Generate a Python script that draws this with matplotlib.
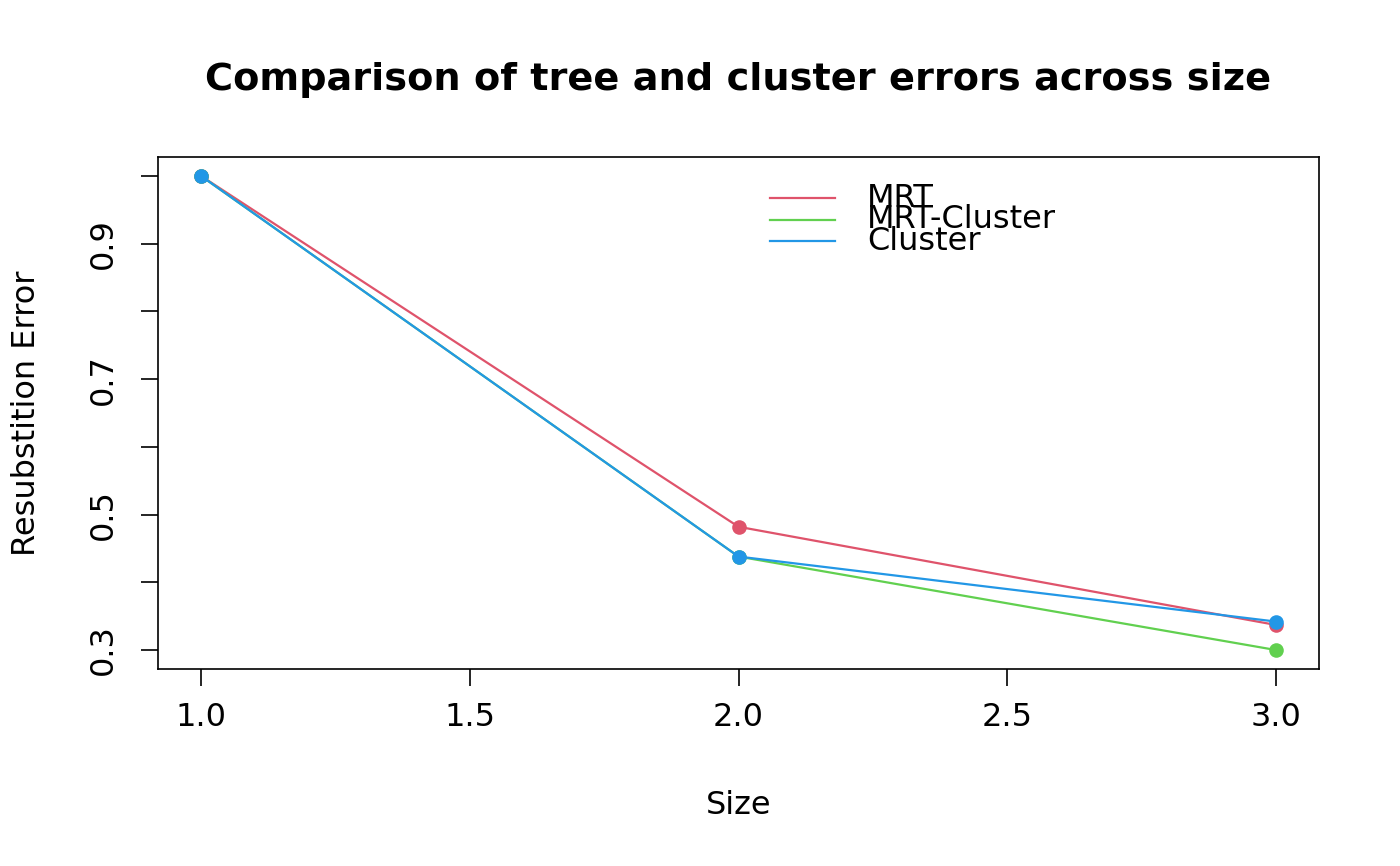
import matplotlib
matplotlib.use('Agg')
import matplotlib.pyplot as plt
from matplotlib.lines import Line2D

plt.rcParams['font.family'] = 'DejaVu Sans'

# data
size = [1, 2, 3]
err_mrt = [1.0, 0.482, 0.337]
err_mrt_cluster = [1.0, 0.438, 0.300]
err_cluster = [1.0, 0.438, 0.342]

series_names = ['MRT', 'MRT-Cluster', 'Cluster']
series_colors = ['#DF536B', '#61D04F', '#2297E6']

x_ticks = [1.0, 1.5, 2.0, 2.5, 3.0]
y_ticks = [0.3, 0.4, 0.5, 0.6, 0.7, 0.8, 0.9, 1.0]
y_labels = ['0.3', '', '0.5', '', '0.7', '', '0.9', '']

fs = 23

fig = plt.figure(figsize=(14, 8.66), dpi=100)
ax = fig.add_axes([0.1129, 0.2275, 0.8292, 0.5912])

for vals, c in zip([err_mrt, err_mrt_cluster, err_cluster], series_colors):
    ax.plot(size, vals, color=c, linewidth=1.6, marker='o', markersize=10.5,
            markeredgewidth=0)

ax.set_xlim(0.92, 3.08)
ax.set_ylim(0.272, 1.028)
ax.set_xticks(x_ticks)
ax.set_xticklabels(['%.1f' % v for v in x_ticks], fontsize=fs)
ax.set_yticks(y_ticks)
ax.set_yticklabels(y_labels, fontsize=fs, rotation=90, va='center')
ax.tick_params(direction='out', length=12, width=1.2, pad=12)
ax.tick_params(axis='y', pad=16)
for sp in ax.spines.values():
    sp.set_linewidth(1.2)

ax.set_xlabel('Size', fontsize=fs, labelpad=41)
ax.set_ylabel('Resubstition Error', fontsize=fs, labelpad=33)
fig.suptitle('Comparison of tree and cluster errors across size',
             fontsize=27.5, fontweight='bold', x=0.527, y=0.928)

# legend in R style: no box, lines overlapping text rows
for i, (name, c) in enumerate(zip(series_names, series_colors)):
    yy = 0.919 - i * 0.042
    ax.add_line(Line2D([0.527, 0.583], [yy, yy], transform=ax.transAxes,
                       color=c, linewidth=1.6))
    ax.text(0.611, yy, name, transform=ax.transAxes, fontsize=fs,
            va='center', ha='left')

fig.savefig('out.png', dpi=100)
